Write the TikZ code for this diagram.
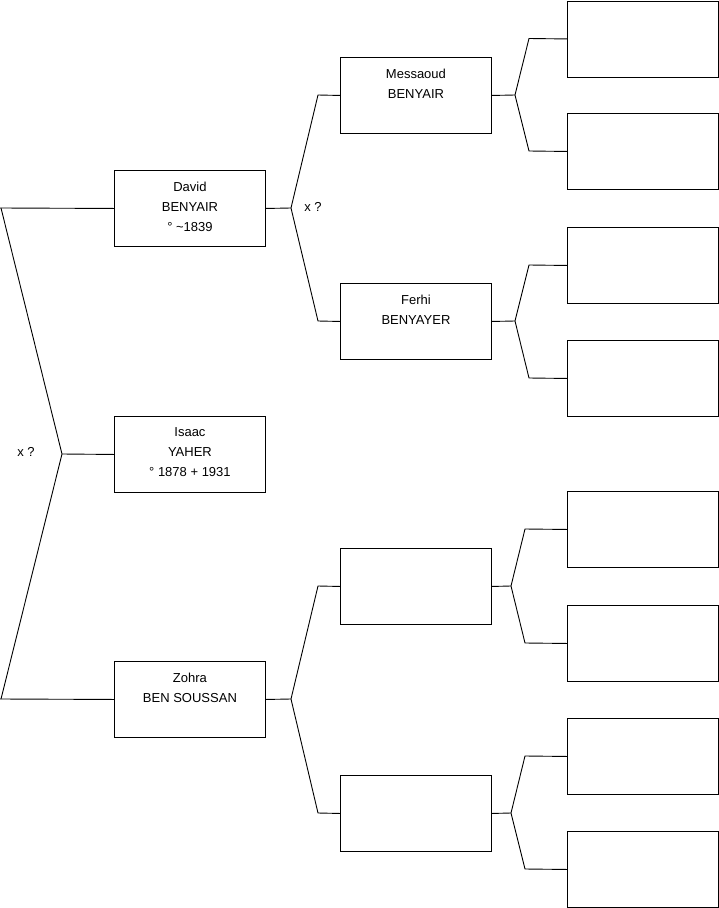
\documentclass[tikz,border=0pt]{standalone}
\usepackage{fontspec}
\setmainfont{Liberation Sans}
\begin{document}
\begin{tikzpicture}[x=1pt,y=-1pt,
  pbox/.style={draw=black, line width=0.9pt, minimum width=151pt, minimum height=76pt, inner sep=0pt, anchor=north west},
  ptxt/.style={align=center, font=\fontsize{13}{20}\selectfont, anchor=north, inner sep=0pt, yshift=-11.5pt},
  lbl/.style={font=\fontsize{13}{15}\selectfont, inner sep=0pt},
  conn/.style={draw=black, line width=0.9pt}]
\useasboundingbox (0,0) rectangle (719,908);
% column 1
\node[pbox] (david) at (114,170) {};
\node[pbox] (isaac) at (114,416) {};
\node[pbox] (zohra) at (114,661) {};
% column 2
\node[pbox] (mess) at (340,57) {};
\node[pbox] (ferhi) at (340,283) {};
\node[pbox] (e1) at (340,548) {};
\node[pbox] (e2) at (340,775) {};
% column 3
\node[pbox] (g1) at (567,0.5) {};
\node[pbox] (g2) at (567,113) {};
\node[pbox] (g3) at (567,227) {};
\node[pbox] (g4) at (567,340) {};
\node[pbox] (g5) at (567,491) {};
\node[pbox] (g6) at (567,605) {};
\node[pbox] (g7) at (567,718) {};
\node[pbox] (g8) at (567,831) {};
% texts
\node[ptxt] (davidt) at (david.north) {David\\BENYAIR\\° \textasciitilde 1839};
\node[ptxt] (isaact) at (isaac.north) {Isaac\\YAHER\\° 1878 + 1931};
\node[ptxt] (zohrat) at (zohra.north) {Zohra\\BEN SOUSSAN};
\node[ptxt] (messt) at (mess.north) {Messaoud\\BENYAIR};
\node[ptxt] (ferhit) at (ferhi.north) {Ferhi\\BENYAYER};
\node[lbl] (x1) at (26,452) {x ?};
\node[lbl] (x2) at (313,207) {x ?};
% fork coordinates
\coordinate (f0) at (62,454);
\coordinate (c1) at (1,208);
\coordinate (c2) at (1,699);
\coordinate (f1) at (291,208);
\coordinate (f2) at (291,699);
\coordinate (f3) at (515,95);
\coordinate (f4) at (515,321);
\coordinate (f5) at (511,586);
\coordinate (f6) at (511,813);
% connectors
\draw[conn] (isaac.west) -- (f0);
\draw[conn] (david.west) -- (0,208);
\draw[conn] (c1) -- (f0) -- (c2);
\draw[conn] (zohra.west) -- (0,699);
\draw[conn] (david.east) -- (f1);
\draw[conn] (mess.west) -- (318,95) -- (f1) -- (318,321) -- (ferhi.west);
\draw[conn] (zohra.east) -- (f2);
\draw[conn] (e1.west) -- (318,586) -- (f2) -- (318,813) -- (e2.west);
\draw[conn] (mess.east) -- (f3);
\draw[conn] (g1.west) -- (529,38.5) -- (f3) -- (529,151) -- (g2.west);
\draw[conn] (ferhi.east) -- (f4);
\draw[conn] (g3.west) -- (529,265) -- (f4) -- (529,378) -- (g4.west);
\draw[conn] (e1.east) -- (f5);
\draw[conn] (g5.west) -- (525,529) -- (f5) -- (525,643) -- (g6.west);
\draw[conn] (e2.east) -- (f6);
\draw[conn] (g7.west) -- (525,756) -- (f6) -- (525,869) -- (g8.west);
\end{tikzpicture}
\end{document}
